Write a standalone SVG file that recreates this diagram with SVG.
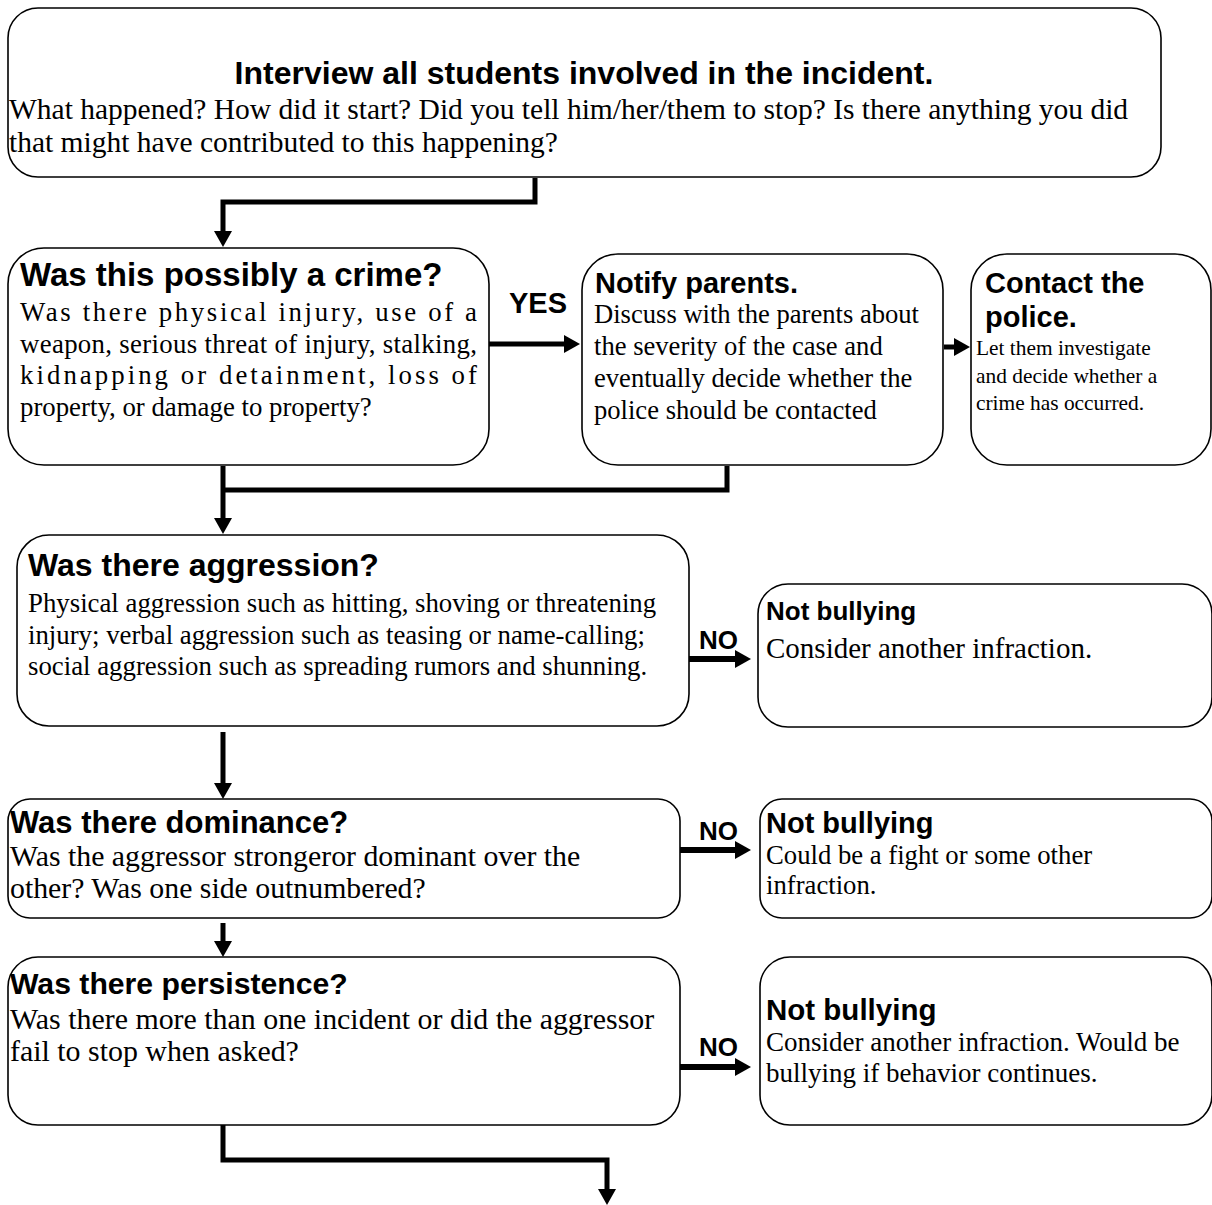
<svg xmlns="http://www.w3.org/2000/svg" width="1212" height="1205" viewBox="0 0 1212 1205">
<defs>
<marker id="ah" markerUnits="userSpaceOnUse" markerWidth="18" markerHeight="18" refX="8" refY="9" orient="auto">
<path d="M0,0 L16,9 L0,18 z" fill="#000"/>
</marker>
<style>
.box{fill:#fff;stroke:#000;stroke-width:1.6}
.h{font-family:"Liberation Sans",Arial,sans-serif;font-weight:bold;fill:#000}
.b{font-family:"Liberation Serif","Times New Roman",serif;fill:#000}
.c{fill:none;stroke:#000;stroke-width:5}
.n{fill:none;stroke:#000;stroke-width:6}
.lbl{font-family:"Liberation Sans",Arial,sans-serif;font-weight:bold;fill:#000}
</style>
</defs>
<rect width="1212" height="1205" fill="#fff"/>
<g id="connectors">
<polyline class="c" points="535,178 535,202 223,202 223,239" marker-end="url(#ah)"/>
<line class="c" x1="489" y1="344" x2="572" y2="344" marker-end="url(#ah)" stroke-width="4"/>
<line class="c" x1="944" y1="347" x2="962" y2="347" marker-end="url(#ah)" stroke-width="4"/>
<line class="c" x1="223" y1="466" x2="223" y2="526" marker-end="url(#ah)"/>
<polyline class="c" points="727,466 727,490 223,490"/>
<line class="n" x1="678" y1="659" x2="743" y2="659" marker-end="url(#ah)"/>
<line class="c" x1="223" y1="732" x2="223" y2="791" marker-end="url(#ah)"/>
<line class="n" x1="678" y1="850" x2="743" y2="850" marker-end="url(#ah)"/>
<line class="c" x1="223" y1="923" x2="223" y2="949" marker-end="url(#ah)"/>
<line class="n" x1="678" y1="1067" x2="743" y2="1067" marker-end="url(#ah)"/>
<polyline class="c" points="223,1115 223,1160 607,1160 607,1197" marker-end="url(#ah)"/>
<text class="lbl" x="509" y="313" font-size="29">YES</text>
<text class="lbl" x="699" y="649" font-size="26">NO</text>
<text class="lbl" x="699" y="840" font-size="26">NO</text>
<text class="lbl" x="699" y="1056" font-size="26">NO</text>
</g>
<g id="interview">
<rect class="box" x="8" y="8" width="1153" height="169" rx="30"/>
<text class="h" x="584" y="84" font-size="32" text-anchor="middle">Interview all students involved in the incident.</text>
<text class="b" x="9" y="119" font-size="29.5">What happened? How did it start? Did you tell him/her/them to stop? Is there anything you did</text>
<text class="b" x="9" y="152" font-size="29.5">that might have contributed to this happening?</text>
</g>
<g id="crime">
<rect class="box" x="8" y="248" width="481" height="217" rx="36"/>
<text class="h" x="20" y="286" font-size="33">Was this possibly a crime?</text>
<text class="b" x="20" y="321" font-size="26.8" textLength="457" lengthAdjust="spacing">Was there physical injury, use of a</text>
<text class="b" x="20" y="353" font-size="26.8" textLength="457" lengthAdjust="spacing">weapon, serious threat of injury, stalking,</text>
<text class="b" x="20" y="384" font-size="26.8" textLength="457" lengthAdjust="spacing">kidnapping or detainment, loss of</text>
<text class="b" x="20" y="416" font-size="26.8">property, or damage to property?</text>
</g>
<g id="notify">
<rect class="box" x="582" y="254" width="361" height="211" rx="36"/>
<text class="h" x="595" y="293" font-size="29">Notify parents.</text>
<text class="b" x="594" y="323" font-size="26.6">Discuss with the parents about</text>
<text class="b" x="594" y="355" font-size="26.6">the severity of the case and</text>
<text class="b" x="594" y="387" font-size="26.6">eventually decide whether the</text>
<text class="b" x="594" y="419" font-size="26.6">police should be contacted</text>
</g>
<g id="police">
<rect class="box" x="971" y="254" width="240" height="211" rx="36"/>
<text class="h" x="985" y="293" font-size="29">Contact the</text>
<text class="h" x="985" y="327" font-size="29">police.</text>
<text class="b" x="976" y="355" font-size="21.4">Let them investigate</text>
<text class="b" x="976" y="383" font-size="21.4">and decide whether a</text>
<text class="b" x="976" y="410" font-size="21.4">crime has occurred.</text>
</g>
<g id="aggression">
<rect class="box" x="17" y="535" width="672" height="191" rx="32"/>
<text class="h" x="28" y="576" font-size="32">Was there aggression?</text>
<text class="b" x="28" y="612" font-size="26.8">Physical aggression such as hitting, shoving or threatening</text>
<text class="b" x="28" y="644" font-size="26.8">injury; verbal aggression such as teasing or name-calling;</text>
<text class="b" x="28" y="675" font-size="26.8">social aggression such as spreading rumors and shunning.</text>
</g>
<g id="notbullying1">
<rect class="box" x="758" y="584" width="454" height="143" rx="30"/>
<text class="h" x="766" y="620" font-size="26">Not bullying</text>
<text class="b" x="766" y="658" font-size="29">Consider another infraction.</text>
</g>
<g id="dominance">
<rect class="box" x="8" y="799" width="672" height="119" rx="22"/>
<text class="h" x="10" y="833" font-size="31">Was there dominance?</text>
<text class="b" x="10" y="866" font-size="29.8">Was the aggressor strongeror dominant over the</text>
<text class="b" x="10" y="898" font-size="29.8">other? Was one side outnumbered?</text>
</g>
<g id="notbullying2">
<rect class="box" x="760" y="799" width="452" height="119" rx="22"/>
<text class="h" x="766" y="833" font-size="29">Not bullying</text>
<text class="b" x="766" y="864" font-size="26.7">Could be a fight or some other</text>
<text class="b" x="766" y="894" font-size="26.7">infraction.</text>
</g>
<g id="persistence">
<rect class="box" x="8" y="957" width="672" height="168" rx="30"/>
<text class="h" x="10" y="994" font-size="30.2">Was there persistence?</text>
<text class="b" x="10" y="1029" font-size="29.9">Was there more than one incident or did the aggressor</text>
<text class="b" x="10" y="1061" font-size="29.9">fail to stop when asked?</text>
</g>
<g id="notbullying3">
<rect class="box" x="760" y="957" width="452" height="168" rx="30"/>
<text class="h" x="766" y="1020" font-size="29.5">Not bullying</text>
<text class="b" x="766" y="1051" font-size="27">Consider another infraction. Would be</text>
<text class="b" x="766" y="1082" font-size="27">bullying if behavior continues.</text>
</g>
</svg>
